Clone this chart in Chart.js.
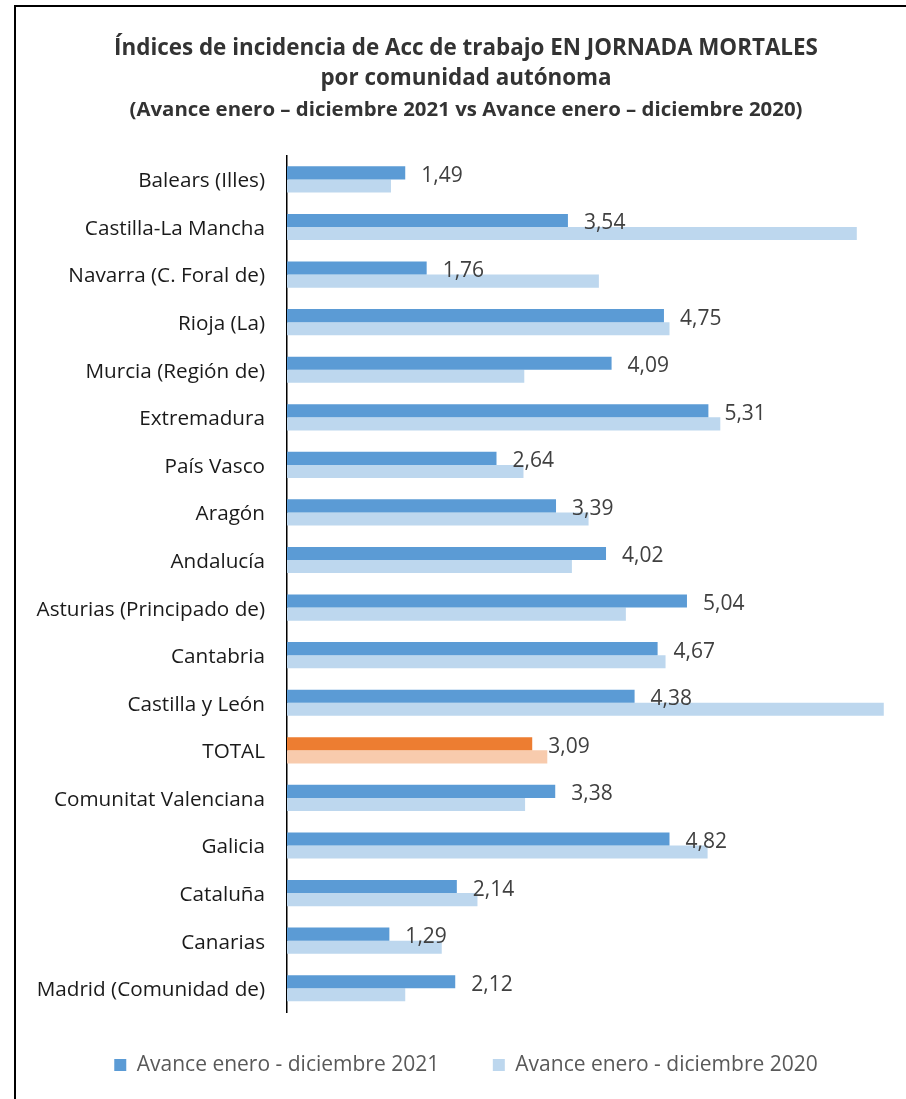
<!DOCTYPE html>
<html>
<head>
<meta charset="utf-8">
<script src="https://cdn.jsdelivr.net/npm/chart.js@4"></script>
<style>
  html, body { margin: 0; padding: 0; background: #fff; overflow: hidden; }
  #wrap { position: relative; width: 906px; height: 1099px; }
  #frame { position: absolute; left: 14px; top: 5px; width: 1000px; height: 1200px; border: 2px solid #000; box-sizing: border-box; }
  canvas { position: absolute; left: 0; top: 0; }
</style>
</head>
<body>
<div id="wrap">
  <div id="frame"></div>
  <canvas id="myChart" width="906" height="1099"></canvas>
</div>
<script>
/*------------------------- datos -------------------------*/
var comunidades = ['Balears (Illes)', 'Castilla-La Mancha', 'Navarra (C. Foral de)', 'Rioja (La)',
  'Murcia (Región de)', 'Extremadura', 'País Vasco', 'Aragón', 'Andalucía',
  'Asturias (Principado de)', 'Cantabria', 'Castilla y León', 'TOTAL',
  'Comunitat Valenciana', 'Galicia', 'Cataluña', 'Canarias', 'Madrid (Comunidad de)'];
var avance2021 = [1.49, 3.54, 1.76, 4.75, 4.09, 5.31, 2.64, 3.39, 4.02, 5.04, 4.67, 4.38, 3.09, 3.38, 4.82, 2.14, 1.29, 2.12];
var avance2020 = [1.31, 7.18, 3.93, 4.82, 2.99, 5.46, 2.98, 3.80, 3.59, 4.27, 4.77, 7.52, 3.28, 3.00, 5.30, 2.40, 1.95, 1.49];
var serieNombres = ['Avance enero - diciembre 2021', 'Avance enero - diciembre 2020'];

var FONT = "'Open Sans', sans-serif";
var totalIdx = comunidades.indexOf('TOTAL');

/*------------------ etiquetas de valor -------------------*/
var valueLabels = {
  id: 'valueLabels',
  afterDatasetsDraw: function(chart) {
    var ctx = chart.ctx;
    var meta = chart.getDatasetMeta(0);
    ctx.save();
    ctx.font = '21px ' + FONT;
    ctx.fillStyle = '#404040';
    ctx.textAlign = 'left';
    ctx.textBaseline = 'middle';
    meta.data.forEach(function(bar, i) {
      ctx.fillText(avance2021[i].toFixed(2).replace('.', ','), bar.x + 16, bar.y + 3);
    });
    ctx.restore();
  }
};

new Chart("myChart", {
  type: "bar",
  data: {
    labels: comunidades,
    datasets: [{
      label: serieNombres[0],
      data: avance2021,
      backgroundColor: function(c) { return c.dataIndex === totalIdx ? '#ED7D31' : '#5B9BD5'; }
    }, {
      label: serieNombres[1],
      data: avance2020,
      backgroundColor: function(c) { return c.dataIndex === totalIdx ? '#F8CBAD' : '#BDD7EE'; }
    }]
  },
  plugins: [valueLabels],
  options: {
    indexAxis: 'y',
    responsive: false,
    animation: false,
    categoryPercentage: 0.55,
    barPercentage: 1,
    layout: { padding: { left: 26, right: 0, top: 0, bottom: 13.5 } },
    scales: {
      x: {
        min: 0, max: 7.8,
        grid: { display: false },
        border: { display: false },
        ticks: { display: false },
        afterFit: function(s) { s.height = 32.5; }
      },
      y: {
        grid: { display: false, drawTicks: false },
        border: { display: true, color: '#000', width: 1.5 },
        ticks: { color: '#1a1a1a', font: { family: FONT, size: 20.7 }, padding: 22, labelOffset: 2 },
        afterFit: function(s) { s.width = 261; }
      }
    },
    plugins: {
      tooltip: { enabled: false },
      title: {
        display: true,
        text: ['Índices de incidencia de Acc de trabajo EN JORNADA MORTALES', 'por comunidad autónoma'],
        color: '#333',
        font: { family: FONT, size: 22.4, weight: 'bold', lineHeight: 1.34 },
        padding: { top: 34, bottom: 1 }
      },
      subtitle: {
        display: true,
        text: '(Avance enero – diciembre 2021 vs Avance enero – diciembre 2020)',
        color: '#333',
        font: { family: FONT, size: 20.4, weight: 'bold', lineHeight: 1.5 },
        padding: { top: 0, bottom: 30 }
      },
      legend: {
        position: 'bottom',
        labels: {
          boxWidth: 12, boxHeight: 12,
          color: '#595959',
          font: { family: FONT, size: 21 },
          padding: 10,
          generateLabels: function(chart) {
            var items = Chart.defaults.plugins.legend.labels.generateLabels(chart);
            items[0].text += '        ';
            return items;
          }
        }
      }
    }
  }
});
</script>
</body>
</html>
